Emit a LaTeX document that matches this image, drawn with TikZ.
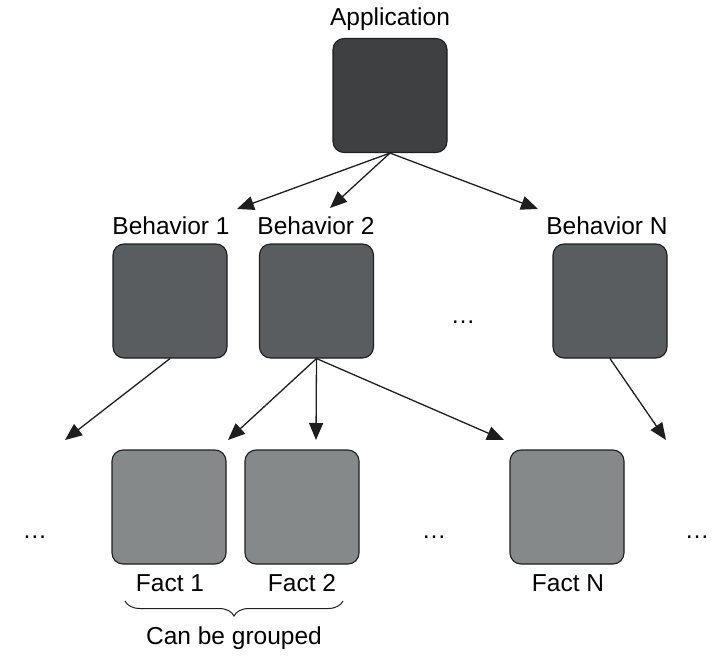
\documentclass[tikz,border=0pt]{standalone}
\usepackage{fontspec}
\setmainfont{Liberation Sans}
\usetikzlibrary{arrows.meta,decorations.pathreplacing}
\definecolor{appc}{HTML}{3F4042}
\definecolor{behc}{HTML}{5A5D60}
\definecolor{factc}{HTML}{86898A}
\definecolor{edgec}{HTML}{1E1E1E}
\begin{document}
\begin{tikzpicture}[x=1pt,y=-1pt,
  box/.style={draw=edgec,line width=1.1pt,rounded corners=11pt,minimum width=114pt,minimum height=114pt,inner sep=0pt},
  appbox/.style={box,fill=appc},
  behbox/.style={box,fill=behc},
  factbox/.style={box,fill=factc},
  lbl/.style={font=\fontsize{24.5}{28}\selectfont,text=black,inner sep=0pt},
  arr/.style={line width=1.3pt,draw=edgec,-{Triangle[length=17pt,width=14pt]}}
]
\useasboundingbox (0,0) rectangle (724,659);
\node[appbox] (app) at (390,95.5) {};
\node[lbl] (appl) at (390,19) {Application};
\node[behbox] (b1) at (170,301) {};
\node[behbox] (b2) at (316.5,301) {};
\node[behbox] (bn) at (610,301) {};
\node[lbl] (b1l) at (171,226) {Behavior 1};
\node[lbl] (b2l) at (316,226) {Behavior 2};
\node[lbl] (bnl) at (607,226) {Behavior N};
\node[lbl] (dots1) at (463,322) {\dots};
\node[factbox] (f1) at (169,507) {};
\node[factbox] (f2) at (302,507) {};
\node[factbox] (fn) at (567,507) {};
\node[lbl] (f1l) at (170,583) {Fact 1};
\node[lbl] (f2l) at (302,583) {Fact 2};
\node[lbl] (fnl) at (568,583) {Fact N};
\node[lbl] (d2) at (35,537) {\dots};
\node[lbl] (d3) at (434,537) {\dots};
\node[lbl] (d4) at (697,537) {\dots};
\node[lbl] (grp) at (234,638) {Can be grouped};
% arrow targets
\coordinate (t1) at (237,209);
\coordinate (t2) at (330,208);
\coordinate (tn) at (538,209);
\coordinate (s1) at (65,440);
\coordinate (s2) at (228,440);
\coordinate (s3) at (316,440);
\coordinate (s4) at (504,440);
\coordinate (s5) at (666,440);
\coordinate (bra) at (125,601);
\coordinate (brb) at (343,601);
\draw[line width=1pt,draw=edgec,decorate,decoration={brace,mirror,amplitude=15pt}] (bra) -- (brb);
\draw[arr] (app.south) -- (t1);
\draw[arr] (app.south) -- (t2);
\draw[arr] (app.south) -- (tn);
\draw[arr] (b1.south) -- (s1);
\draw[arr] (b2.south) -- (s2);
\draw[arr] (b2.south) -- (s3);
\draw[arr] (b2.south) -- (s4);
\draw[arr] (bn.south) -- (s5);
\end{tikzpicture}
\end{document}
